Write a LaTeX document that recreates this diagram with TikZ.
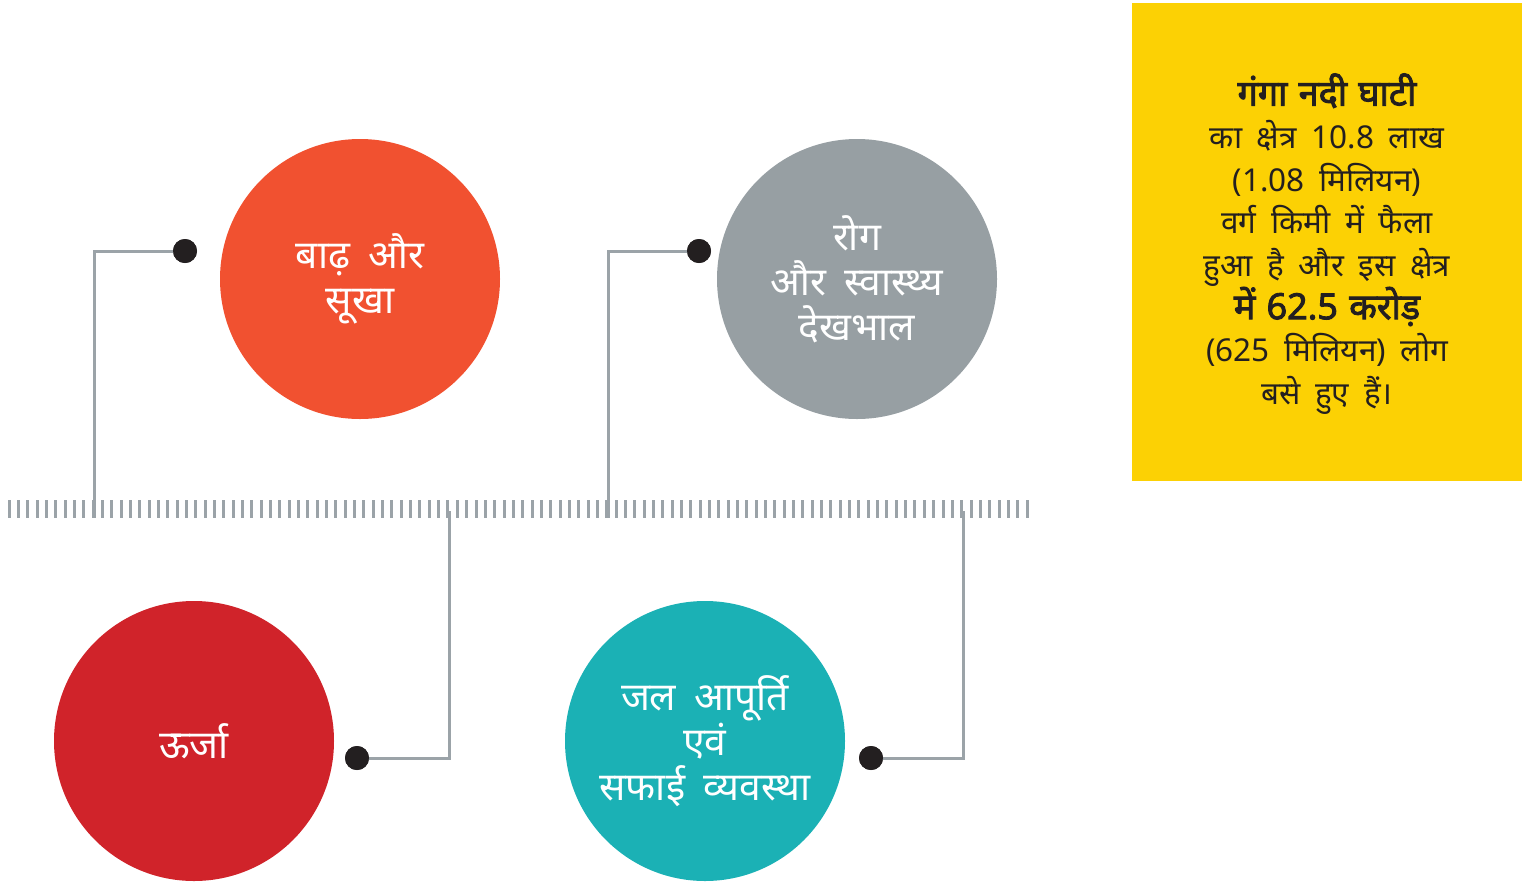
\documentclass[tikz,border=0pt]{standalone}
\usepackage{fontspec}
\newfontfamily\hindi[Script=Devanagari,WordSpace={1.8,0,0}]{Noto Sans}
\newfontfamily\hindibold[Script=Devanagari,WordSpace={1.2,0,0},FakeBold=2.5]{Noto Sans}
\definecolor{floodorange}{HTML}{F15130}
\definecolor{healthgray}{HTML}{979FA3}
\definecolor{energyred}{HTML}{D0232A}
\definecolor{waterteal}{HTML}{1BB1B5}
\definecolor{boxyellow}{HTML}{FCD104}
\definecolor{linegray}{HTML}{9BA3A8}
\definecolor{pindark}{HTML}{231F20}
\tikzset{
  topic/.style={circle,minimum size=280pt,inner sep=0pt,text=white,align=center,
    font=\hindi\fontsize{39}{45}\selectfont},
  pin/.style={circle,fill=pindark,minimum size=24pt,inner sep=0pt},
  conn/.style={draw=linegray,line width=3pt},
}

\begin{document}
\begin{tikzpicture}[x=1pt,y=-1pt]
  \useasboundingbox (0,0) rectangle (1532,887);
  % ruler
  \foreach \i in {0,...,109} \draw[linegray,line width=3pt] ({9+\i*9.34},500) -- ++(0,18);
  % circles
  \node[topic,fill=floodorange] (flood) at (360,279) {बाढ़ और\\सूखा};
  \node[topic,fill=healthgray] (health) at (857,279) {रोग\\और स्वास्थ्य\\देखभाल};
  \node[topic,fill=energyred] (energy) at (194,741) {ऊर्जा};
  \node[topic,fill=waterteal] (water) at (705,741) {जल आपूर्ति\\एवं\\सफाई व्यवस्था};
  % pins and leads
  \node[pin] (p1) at (185,251) {};
  \node[pin] (p2) at (699,251) {};
  \node[pin] (p3) at (357,758) {};
  \node[pin] (p4) at (871,758) {};
  \coordinate (e1) at (94,518);
  \coordinate (e2) at (608,518);
  \coordinate (e3) at (449,511);
  \coordinate (e4) at (963,511);
  \draw[conn] (p1.center) -| (e1);
  \draw[conn] (p2.center) -| (e2);
  \draw[conn] (p3.center) -| (e3);
  \draw[conn] (p4.center) -| (e4);
  \foreach \p in {p1,p2,p3,p4} \fill[pindark] (\p) circle (12);
  % fact box
  \fill[boxyellow] (1132,3) rectangle (1522,481);
  \node[text=pindark,align=center,font=\hindi\fontsize{31.5}{42.7}\selectfont] (fact) at (1327,244)
    {{\hindibold\fontsize{36}{42.7}\selectfont गंगा नदी घाटी}\\का क्षेत्र 10.8 लाख\\(1.08 मिलियन)\\वर्ग किमी में फैला\\हुआ है और इस क्षेत्र\\{\hindibold\fontsize{36}{42.7}\selectfont में 62.5 करोड़}\\(625 मिलियन) लोग\\बसे हुए हैं।};
\end{tikzpicture}
\end{document}
